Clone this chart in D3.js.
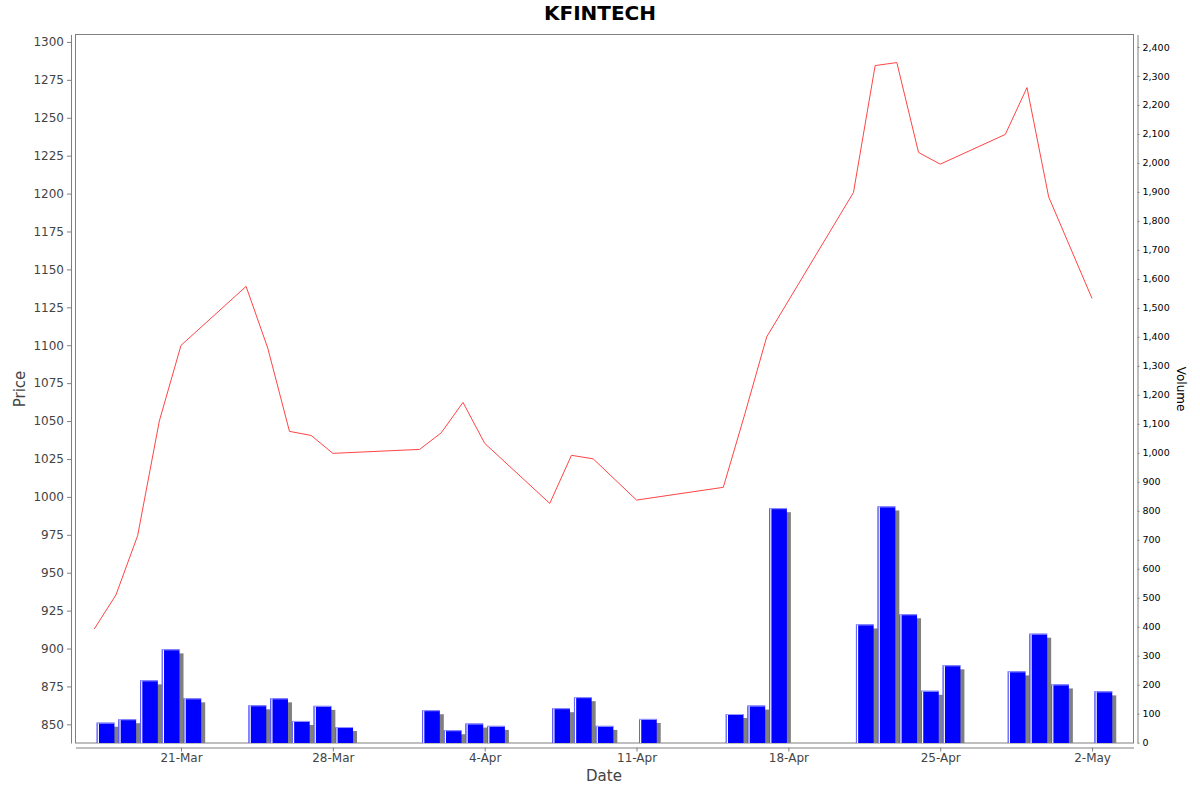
<!DOCTYPE html>
<html>
<head>
<meta charset="utf-8">
<script src="https://cdn.jsdelivr.net/npm/d3@7"></script>
<style>
    body { margin: 0; background: #fff; }
    svg { display: block; font-family: "DejaVu Sans", sans-serif; }
</style>
</head>
<body>
<svg id="chart" width="1200" height="792"></svg>
<script>
// trading days, closing price and volume
const dates = [
    "2025-03-17", "2025-03-18", "2025-03-19", "2025-03-20", "2025-03-21",
    "2025-03-24", "2025-03-25", "2025-03-26", "2025-03-27", "2025-03-28",
    "2025-04-01", "2025-04-02", "2025-04-03", "2025-04-04",
    "2025-04-07", "2025-04-08", "2025-04-09", "2025-04-11",
    "2025-04-15", "2025-04-16", "2025-04-17",
    "2025-04-21", "2025-04-22", "2025-04-23", "2025-04-24", "2025-04-25",
    "2025-04-28", "2025-04-29", "2025-04-30", "2025-05-02"
];
const price = [
    912.9, 935.3, 974.4, 1050, 1099.9,
    1138.8, 1098.1, 1043.2, 1040.5, 1028.7,
    1031.3, 1042.3, 1062.3, 1035.3,
    995.7, 1027.4, 1025.1, 997.9,
    1006.3, 1055, 1105.5,
    1200.7, 1284.4, 1286.4, 1227.1, 1219.4,
    1239, 1269.9, 1197.8, 1130.8
];
const volume = [
    69, 81, 215, 322, 153,
    129, 153, 75, 127, 54,
    112, 43, 66, 58,
    119, 157, 58, 82,
    99, 128, 809,
    408, 815, 443, 179, 267,
    246, 376, 201, 177
];
const dateTicks = ["2025-03-21", "2025-03-28", "2025-04-04", "2025-04-11", "2025-04-18", "2025-04-25", "2025-05-02"];
const priceTicks = d3.range(850, 1301, 25);
const volumeTicks = d3.range(0, 2401, 100);

const plot = { left: 75.5, right: 1133.5, top: 34.5, bottom: 743 };
const DAY = 864e5;
const parse = d3.utcParse("%Y-%m-%d");

const rows = dates.map((d, i) => ({ date: parse(d), price: price[i], volume: volume[i] }));

const ref = parse("2025-03-21");
const x = d3.scaleUtc()
    .domain([new Date(+ref - 4.864 * DAY), new Date(+ref + 43.91 * DAY)])
    .range([plot.left, plot.right]);

const yPrice = d3.scaleLinear()
    .domain([837.7, 1304.9])
    .range([plot.bottom, plot.top]);

const yVol = d3.scaleLinear()
    .domain([0, 2443])
    .range([742.7, plot.top]);

const svg = d3.select("#chart");

svg.append("defs").append("clipPath")
    .attr("id", "plotclip")
    .append("rect")
    .attr("x", plot.left)
    .attr("y", plot.top)
    .attr("width", plot.right - plot.left)
    .attr("height", plot.bottom - plot.top);

// title
svg.append("text")
    .attr("x", 600)
    .attr("y", 20)
    .attr("text-anchor", "middle")
    .style("font-size", "20px")
    .style("font-weight", "bold")
    .style("fill", "#000")
    .text("KFINTECH");

// plot outline
svg.append("rect")
    .attr("x", plot.left)
    .attr("y", plot.top)
    .attr("width", plot.right - plot.left)
    .attr("height", plot.bottom - plot.top)
    .attr("fill", "#fff")
    .attr("stroke", "#808080")
    .attr("stroke-width", 1);

const marks = svg.append("g").attr("clip-path", "url(#plotclip)");

// volume bars: shadow, body, light left edge
const bars = marks.append("g")
    .selectAll("g")
    .data(rows)
    .enter()
    .append("g");

function barX0(d) { return x(d.date) + 2.5; }
function barX1(d) { return x(new Date(+d.date + DAY)) - 1.5; }

bars.append("rect")
    .attr("x", d => barX0(d) + 4)
    .attr("y", d => yVol(d.volume) + 4)
    .attr("width", d => barX1(d) - barX0(d))
    .attr("height", d => plot.bottom + 2 - yVol(d.volume))
    .attr("fill", "#808080");

bars.append("rect")
    .attr("x", d => barX0(d))
    .attr("y", d => yVol(d.volume))
    .attr("width", d => barX1(d) - barX0(d))
    .attr("height", d => plot.bottom - yVol(d.volume))
    .attr("fill", "#0000ff");

bars.append("rect")
    .attr("x", d => barX0(d))
    .attr("y", d => yVol(d.volume))
    .attr("width", 1)
    .attr("height", d => plot.bottom - yVol(d.volume))
    .attr("fill", "#6666ff");

bars.append("rect")
    .attr("x", d => barX0(d) + 1)
    .attr("y", d => yVol(d.volume))
    .attr("width", 1.2)
    .attr("height", d => plot.bottom - yVol(d.volume))
    .attr("fill", "#ffffff");

bars.append("rect")
    .attr("x", d => barX0(d))
    .attr("y", d => yVol(d.volume))
    .attr("width", d => barX1(d) - barX0(d))
    .attr("height", 1)
    .attr("fill", "#9999ff");

// price line
const line = d3.line()
    .x(d => x(d.date))
    .y(d => yPrice(d.price));

marks.append("path")
    .datum(rows)
    .attr("d", line)
    .attr("fill", "none")
    .attr("stroke", "#ff4444")
    .attr("stroke-width", 1);

// axes
function styleAxis(g, color, size) {
    g.select(".domain").attr("stroke", "#808080");
    g.selectAll(".tick line").attr("stroke", "#808080");
    g.selectAll(".tick text")
        .style("font-family", "DejaVu Sans, sans-serif")
        .style("font-size", size)
        .attr("fill", color);
}

svg.append("g")
    .attr("transform", "translate(71,0)")
    .call(d3.axisLeft(yPrice).tickValues(priceTicks).tickSize(4).tickSizeOuter(0).tickPadding(3).tickFormat(d3.format("d")))
    .call(g => styleAxis(g, "#444", "12px"));

svg.append("g")
    .attr("transform", "translate(1137.5,0)")
    .call(d3.axisRight(yVol).tickValues(volumeTicks).tickSize(2).tickSizeOuter(0).tickPadding(3).tickFormat(d3.format(",")))
    .call(g => styleAxis(g, "#000", "9.5px"));

svg.append("g")
    .attr("transform", "translate(0,747.5)")
    .call(d3.axisBottom(x).tickValues(dateTicks.map(parse)).tickSize(4).tickSizeOuter(0).tickPadding(2).tickFormat(d3.utcFormat("%-d-%b")))
    .call(g => styleAxis(g, "#444", "12px"));

// axis titles
svg.append("text")
    .attr("transform", "translate(25,389) rotate(-90)")
    .attr("text-anchor", "middle")
    .style("font-size", "15px")
    .style("fill", "#444")
    .text("Price");

svg.append("text")
    .attr("x", 604)
    .attr("y", 781)
    .attr("text-anchor", "middle")
    .style("font-size", "15px")
    .style("fill", "#444")
    .text("Date");

svg.append("text")
    .attr("transform", "translate(1177,389) rotate(90)")
    .attr("text-anchor", "middle")
    .style("font-size", "12px")
    .style("fill", "#000")
    .text("Volume");
</script>
</body>
</html>
